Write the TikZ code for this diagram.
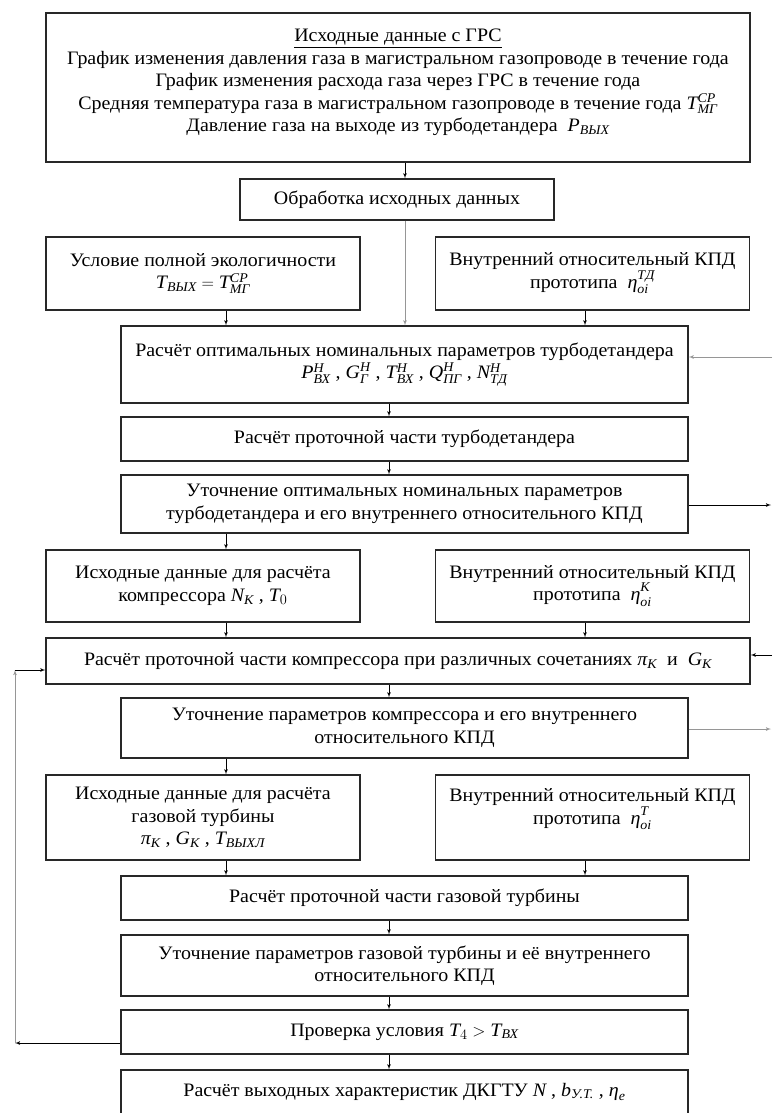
\documentclass[tikz,border=0pt]{standalone}
\usepackage{amsmath}
\usepackage{fontspec}
\setmainfont{Liberation Serif}[FakeStretch=1.05]
\usepackage{tikz}
\usetikzlibrary{arrows}
\newcommand\iv[1]{\textit{#1}}
\newcommand\updp{\rule[-3pt]{0pt}{3pt}}
\definecolor{line_gray}{RGB}{150,150,150}
\definecolor{box_gray}{RGB}{40,40,40}

\begin{document}
\begin{tikzpicture}[->,thick,>=latex',x=1pt,y=-1pt]
    \tikzstyle{box}=[draw=box_gray, rectangle, line width=1.1pt, align=center, inner sep=2pt, text=black, font=\fontsize{19}{22.5}\selectfont]
    \tikzstyle{wide}=[style=box, minimum width=704pt]
    \tikzstyle{mid}=[style=box, minimum width=567pt]
    \tikzstyle{side}=[style=box, minimum width=314pt]

    \useasboundingbox (0,0) rectangle (772,1113);
    \clip (0,0) rectangle (772,1113);

    \node[wide, minimum height=149pt] (src) at (398,87.5) {\underline{Исходные данные с ГРС}\\
      График изменения давления газа в магистральном газопроводе в течение года\\
      График изменения расхода газа через ГРС в течение года\\
      Средняя температура газа в магистральном газопроводе в течение года $\iv{T}^{\iv{СР}}_{\iv{МГ}}$\\
      Давление газа на выходе из турбодетандера \ $\iv{P}_{\iv{ВЫХ}}$\\[-8pt] \mbox{}};
    \node[box, minimum width=314pt, minimum height=41pt] (proc) at (397,199.5) {Обработка исходных данных};
    \node[side, minimum height=73pt] (eco)    at (203,273.5)   {Условие полной экологичности\\ $\iv{T}_{\iv{ВЫХ}} = \iv{T}^{\iv{СР}}_{\iv{МГ}}$};
    \node[side, minimum height=73pt] (etatd)  at (592.5,273.5) {Внутренний относительный КПД\\ прототипа \ $\iv{η}^{\iv{ТД}\updp}_{\iv{oi}}$};
    \node[mid, minimum height=77pt]  (opt)    at (404.5,364.5) {Расчёт оптимальных номинальных параметров турбодетандера\\
      $\iv{P}^{\iv{Н}}_{\iv{ВХ}}$ , $\iv{G}^{\iv{Н}}_{\iv{Г}}$ , $\iv{T}^{\iv{Н}}_{\iv{ВХ}}$ , $\iv{Q}^{\iv{Н}}_{\iv{ПГ}}$ , $\iv{N}^{\iv{Н}}_{\iv{ТД}}$};
    \node[mid, minimum height=44pt]  (flowtd) at (404.5,439)   {Расчёт проточной части турбодетандера};
    \node[mid, minimum height=58pt]  (reftd)  at (404.5,504)   {Уточнение оптимальных номинальных параметров\\ турбодетандера и его внутреннего относительного КПД};
    \node[side, minimum height=72pt] (compin) at (203,586)     {Исходные данные для расчёта\\ компрессора $\iv{N}_{\iv{К}}$ , $\iv{T}_0$};
    \node[side, minimum height=72pt] (etak)   at (592.5,586)   {Внутренний относительный КПД\\ прототипа \ $\iv{η}^{\iv{К}\updp}_{\iv{oi}}$};
    \node[wide, minimum height=46pt] (flowk)  at (398,661)     {Расчёт проточной части компрессора при различных сочетаниях $\iv{π}_{\iv{К}}$ \ и \ $\iv{G}_{\iv{К}}$};
    \node[mid, minimum height=60pt]  (refk)   at (404.5,728)   {Уточнение параметров компрессора и его внутреннего\\ относительного КПД};
    \node[side, minimum height=85pt] (turbin) at (203,817.5)   {Исходные данные для расчёта\\ газовой турбины\\ $\iv{π}_{\iv{К}}$ , $\iv{G}_{\iv{К}}$ , $\iv{T}_{\iv{ВЫХЛ}}$};
    \node[side, minimum height=85pt] (etat)   at (592.5,817.5) {Внутренний относительный КПД\\ прототипа \ $\iv{η}^{\iv{Т}\updp}_{\iv{oi}}$\\ \mbox{}};
    \node[mid, minimum height=44pt]  (flowt)  at (404.5,898)   {Расчёт проточной части газовой турбины};
    \node[mid, minimum height=61pt]  (reft)   at (404.5,965.5) {Уточнение параметров газовой турбины и её внутреннего\\ относительного КПД};
    \node[mid, minimum height=44pt]  (check)  at (404.5,1032)  {Проверка условия $\iv{T}_4 > \iv{T}_{\iv{ВХ}}$};
    \node[mid, minimum height=44pt]  (outp)   at (404.5,1092)  {Расчёт выходных характеристик ДКГТУ $\iv{N}$ , $\iv{b}_{\iv{У.Т.}}$ , $\iv{η}_{\iv{e}}$};

    % columns of the arrows and loose ends
    \coordinate (tx) at (405,0);
    \coordinate (mx) at (389,0);
    \coordinate (lx) at (226,0);
    \coordinate (rx) at (585,0);
    \coordinate (lpb) at (15,1043);
    \coordinate (lpt) at (15,670);
    \coordinate (fbopt) at (772,357);
    \coordinate (fbtd) at (771,505);
    \coordinate (fbk) at (772,655);
    \coordinate (fbrk) at (771,729);

    \path
     (src.south -| tx) edge (proc.north -| tx)
     (proc.south -| tx) edge[line_gray] (opt.north -| tx)
     (eco.south -| lx) edge (opt.north -| lx)
     (etatd.south -| rx) edge (opt.north -| rx)
     (opt.south -| mx) edge (flowtd.north -| mx)
     (flowtd.south -| mx) edge (reftd.north -| mx)
     (reftd.south -| lx) edge (compin.north -| lx)
     (compin.south -| lx) edge (flowk.north -| lx)
     (etak.south -| rx) edge (flowk.north -| rx)
     (flowk.south -| mx) edge (refk.north -| mx)
     (refk.south -| lx) edge (turbin.north -| lx)
     (turbin.south -| lx) edge (flowt.north -| lx)
     (etat.south -| rx) edge (flowt.north -| rx)
     (flowt.south -| mx) edge (reft.north -| mx)
     (reft.south -| mx) edge (check.north -| mx)
     (check.south -| mx) edge (outp.north -| mx)
     (check.west |- lpb) edge (lpb)
     (lpb) edge[line_gray] (lpt)
     (lpt) edge (flowk.west |- lpt)
     (fbopt) edge[line_gray] (opt.east |- fbopt)
     (reftd.east |- fbtd) edge (fbtd)
     (fbk) edge (flowk.east |- fbk)
     (refk.east |- fbrk) edge[line_gray] (fbrk)
     ;
\end{tikzpicture}
\end{document}
